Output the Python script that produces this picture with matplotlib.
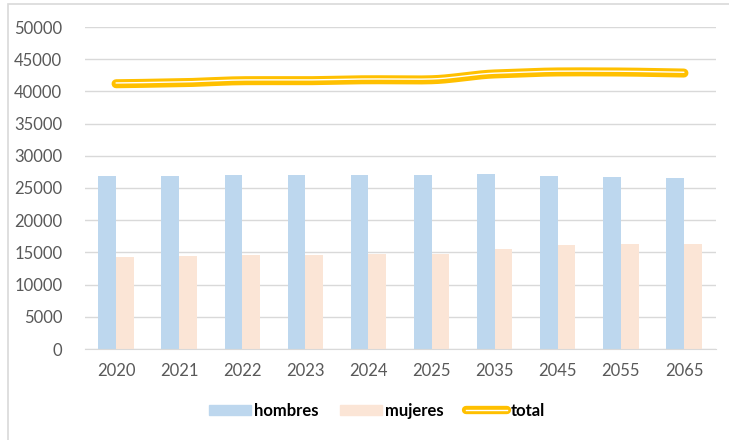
import matplotlib.pyplot as plt
import matplotlib.patches as mpatches
import matplotlib.lines as mlines
import numpy as np

plt.rcParams['font.family'] = ['Lato', 'DejaVu Sans']

# datos
anios = ['2020', '2021', '2022', '2023', '2024', '2025', '2035', '2045', '2055', '2065']
hombres = [26920, 26920, 27080, 27080, 27080, 27080, 27240, 26920, 26760, 26600]
mujeres = [14270, 14420, 14580, 14580, 14730, 14730, 15470, 16100, 16250, 16250]
total = [41190, 41340, 41660, 41660, 41810, 41810, 42710, 43020, 43010, 42850]

azul = '#BDD7EE'
rosa = '#FBE5D6'
oro = '#FFC000'
gris = '#595959'


def suavizar(x, y, n=20, k=0.6):
    # curva Hermite (tipo linea suavizada de Excel)
    x = np.asarray(x, float)
    y = np.asarray(y, float)
    my = np.gradient(y) * k
    t = np.linspace(0, 1, n)
    h00 = 2 * t**3 - 3 * t**2 + 1
    h10 = t**3 - 2 * t**2 + t
    h01 = -2 * t**3 + 3 * t**2
    h11 = t**3 - t**2
    xs, ys = [], []
    for i in range(len(x) - 1):
        xs.extend(x[i] + t * (x[i + 1] - x[i]))
        ys.extend(h00 * y[i] + h10 * my[i] + h01 * y[i + 1] + h11 * my[i + 1])
    return np.array(xs), np.array(ys)


fig = plt.figure(figsize=(7.29, 4.40), dpi=100)
ax = fig.add_axes([84.5 / 729, 91 / 440, 631 / 729, 322 / 440])

x = np.arange(len(anios))
w = 0.28
ax.bar(x - w / 2, hombres, w, color=azul, label='hombres', zorder=2)
ax.bar(x + w / 2, mujeres, w, color=rosa, label='mujeres', zorder=2)

sx, sy = suavizar(x, total)
ax.plot(sx, sy, color=oro, lw=6.5, solid_capstyle='round', zorder=3)
ax.plot(sx, sy + 120, color='white', lw=1.0, solid_capstyle='round', zorder=4)

ax.set_xlim(-0.5, len(anios) - 0.5)
ax.set_ylim(0, 50000)
ax.set_yticks(range(0, 50001, 5000))
ax.set_xticks(x)
ax.set_xticklabels(anios)
ax.grid(axis='y', color='#D9D9D9', lw=1, zorder=0)
ax.tick_params(length=0, labelsize=12, colors=gris)
ax.tick_params(axis='x', pad=10)
ax.tick_params(axis='y', pad=16)
for s in ['top', 'right', 'left']:
    ax.spines[s].set_visible(False)
ax.spines['bottom'].set_color('#D9D9D9')

# leyenda con la linea doble
h1 = mpatches.Patch(color=azul)
h2 = mpatches.Patch(color=rosa)
h3 = (mlines.Line2D([], [], color=oro, lw=6, solid_capstyle='round'),
      mlines.Line2D([], [], color='white', lw=1.0))
fig.legend([h1, h2, h3], ['hombres', 'mujeres', 'total'], loc='center',
           bbox_to_anchor=(377 / 729, 1 - 411 / 440), ncol=3, frameon=False,
           prop={'weight': 'bold', 'size': 12}, handlelength=2.5,
           handleheight=0.6, columnspacing=1.3, handletextpad=0.2)

# borde del grafico
fig.patches.append(mpatches.Rectangle((8 / 729, -0.1), 1.2, 1 - 4 / 440 + 0.1,
                                      transform=fig.transFigure, fill=False,
                                      edgecolor='#D9D9D9', lw=1.2))

fig.savefig('out.png', dpi=100)
